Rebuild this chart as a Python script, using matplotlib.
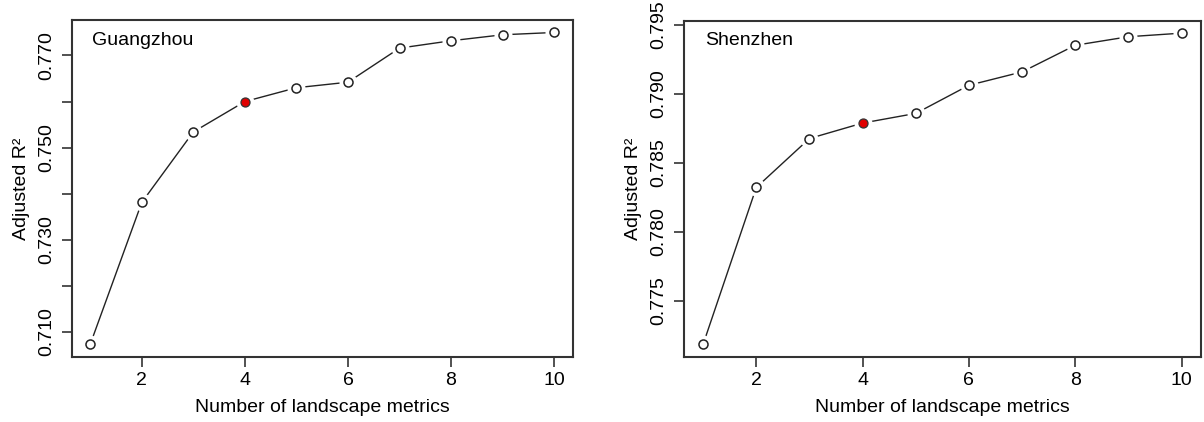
import matplotlib
matplotlib.use("Agg")
import matplotlib.pyplot as plt
import numpy as np

n_metrics = [1, 2, 3, 4, 5, 6, 7, 8, 9, 10]
guangzhou_r2 = [0.7073, 0.7381, 0.7534, 0.7600, 0.7630, 0.7642, 0.7716, 0.7732, 0.7745, 0.7750]
shenzhen_r2 = [0.77185, 0.78322, 0.78677, 0.78789, 0.78859, 0.79063, 0.79160, 0.79353, 0.79415, 0.79441]
selected = 4
x_ticks = [2, 4, 6, 8, 10]
gz_yticks = [0.710, 0.720, 0.730, 0.740, 0.750, 0.760, 0.770]
gz_ylabels = ["0.710", "", "0.730", "", "0.750", "", "0.770"]
sz_yticks = [0.775, 0.780, 0.785, 0.790, 0.795]
sz_ylabels = ["0.775", "0.780", "0.785", "0.790", "0.795"]

plt.rcParams['font.family'] = ['Liberation Sans', 'DejaVu Sans']
FS = 14
W, H = 1204, 422
fig = plt.figure(figsize=(W / 100, H / 100), dpi=100)

def make_ax(l, t, r, b):
    return fig.add_axes([l / W, 1 - b / H, (r - l) / W, (b - t) / H])

ax1 = make_ax(71.7, 20, 572.7, 356.7)
ax2 = make_ax(684, 20.7, 1200.7, 356.7)

def draw(ax, y, title, yt, yl, ylab_pad):
    x = np.array(n_metrics)
    y = np.array(y)
    ax.plot(x, y, '-', color='#222222', lw=1.0, zorder=1)
    ax.plot(x, y, 'o', ms=13, mfc='white', mec='none', zorder=2)
    sel = x == selected
    ax.plot(x[~sel], y[~sel], 'o', ms=6.5, mfc='white', mec='#222222', mew=1.1, zorder=3)
    ax.plot(x[sel], y[sel], 'o', ms=6.5, mfc='#e00000', mec='#333333', mew=0.9, zorder=3)
    ax.margins(x=0.04, y=0.04)
    ax.set_xticks(x_ticks)
    ax.set_xticklabels([str(v) for v in x_ticks], fontsize=FS)
    ax.set_yticks(yt)
    ax.set_yticklabels(yl, fontsize=FS, rotation=90, va='center')
    ax.tick_params(direction='out', length=7, width=1.2, color='#333333', pad=5)
    ax.tick_params(axis='x', pad=4)
    for s in ax.spines.values():
        s.set_linewidth(1.5)
        s.set_color('#333333')
    ax.set_xlabel("Number of landscape metrics", fontsize=FS, labelpad=7)
    ax.set_ylabel("Adjusted R²", fontsize=FS, labelpad=ylab_pad)
    ax.text(0.04, 0.94, title, transform=ax.transAxes, fontsize=FS, va='center', ha='left')

draw(ax1, guangzhou_r2, "Guangzhou", gz_yticks, gz_ylabels, 6)
draw(ax2, shenzhen_r2, "Shenzhen", sz_yticks, sz_ylabels, 6)

fig.savefig("out.png", dpi=100)
